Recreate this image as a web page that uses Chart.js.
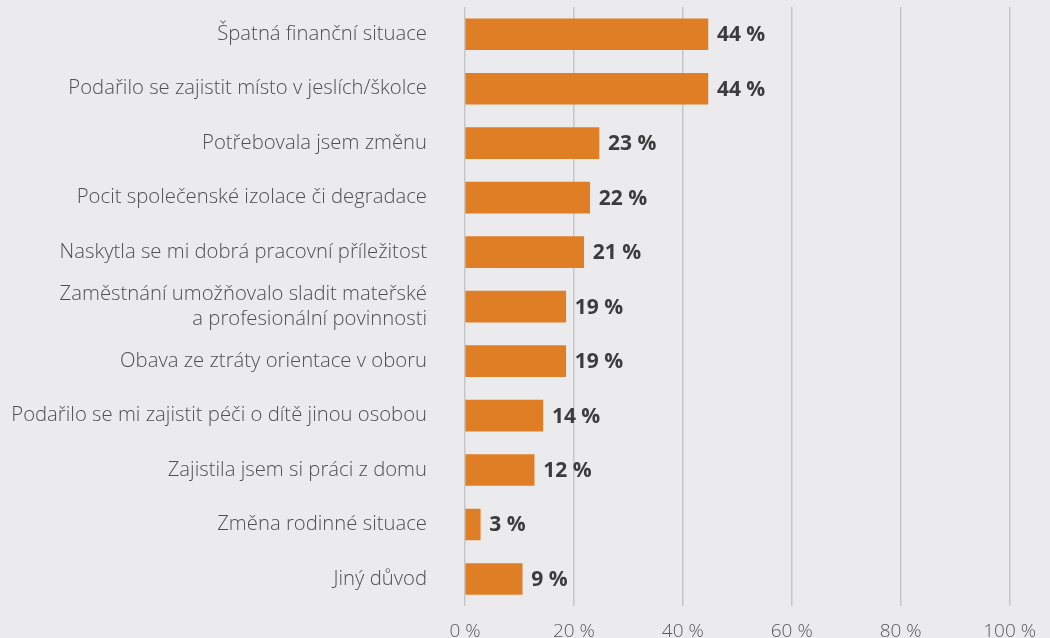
<!DOCTYPE html>
<html>
<head>
<meta charset="utf-8">
<script src="https://cdn.jsdelivr.net/npm/chart.js@4/dist/chart.umd.min.js"></script>
<style>
  html, body { margin: 0; padding: 0; background: #ebebed; overflow: hidden; }
  #wrap { position: relative; width: 1050px; height: 657px; }
</style>
</head>
<body>
<div id="wrap"><canvas id="chart"></canvas></div>
<script>
"use strict";

// ── Data ──────────────────────────────────────────────────────────────────
const CATEGORIES = [
  "Špatná finanční situace",
  "Podařilo se zajistit místo v jeslích/školce",
  "Potřebovala jsem změnu",
  "Pocit společenské izolace či degradace",
  "Naskytla se mi dobrá pracovní příležitost",
  ["Zaměstnání umožňovalo sladit mateřské", "a profesionální povinnosti"],
  "Obava ze ztráty orientace v oboru",
  "Podařilo se mi zajistit péči o dítě jinou osobou",
  "Zajistila jsem si práci z domu",
  "Změna rodinné situace",
  "Jiný důvod",
];
// bar lengths as drawn in the picture
const VALUES = [44.6, 44.6, 24.6, 22.9, 21.8, 18.5, 18.5, 14.3, 12.7, 2.8, 10.5];
// printed labels
const VALUE_TEXT = ["44 %", "44 %", "23 %", "22 %", "21 %", "19 %", "19 %", "14 %", "12 %", "3 %", "9 %"];
const X_TICKS = [0, 20, 40, 60, 80, 100];

const BAR_COLOR = "#e07e26";
const TEXT_COLOR = "#505050";

// ── Value labels at bar ends ──────────────────────────────────────────────
const valueLabels = {
  id: "valueLabels",
  afterDatasetsDraw(chart) {
    const { ctx } = chart;
    const meta = chart.getDatasetMeta(0);
    ctx.save();
    ctx.font = "bold 21px 'Open Sans', sans-serif";
    ctx.fillStyle = "#3c3c3c";
    ctx.textAlign = "left";
    ctx.textBaseline = "middle";
    meta.data.forEach((bar, i) => {
      ctx.fillText(VALUE_TEXT[i], bar.x + 9, bar.y + 1);
    });
    ctx.restore();
  },
};

Chart.defaults.font.family = "'Open Sans', sans-serif";
Chart.defaults.color = TEXT_COLOR;

new Chart(document.getElementById("chart"), {
  type: "bar",
  data: {
    labels: CATEGORIES,
    datasets: [{
      data: VALUES,
      backgroundColor: BAR_COLOR,
      borderWidth: 0,
      barThickness: 31,
    }],
  },
  options: {
    indexAxis: "y",
    responsive: true,
    maintainAspectRatio: false,
    animation: false,
    layout: { padding: { top: 7, right: 40, left: 0, bottom: 0 } },
    plugins: {
      legend: { display: false },
      tooltip: { enabled: false },
    },
    scales: {
      x: {
        min: 0,
        max: 100,
        afterBuildTicks: s => { s.ticks = X_TICKS.map(v => ({ value: v })); },
        grid: { color: "#c6c6c8", lineWidth: 1.5, drawTicks: false },
        border: { display: false },
        ticks: {
          padding: 14,
          font: { size: 19, weight: 300 },
          color: "#5a5a5a",
          callback: v => v + " %",
        },
      },
      y: {
        afterFit: s => {
          s.width = 465;
          s.paddingTop = 0;
          s.paddingBottom = 0;
        },
        grid: { display: false, drawTicks: true, tickLength: 38 },
        border: { display: false },
        ticks: {
          padding: 0,
          font: { size: 20.3, weight: 300 },
          color: TEXT_COLOR,
        },
      },
    },
  },
  plugins: [valueLabels],
});
</script>
</body>
</html>
